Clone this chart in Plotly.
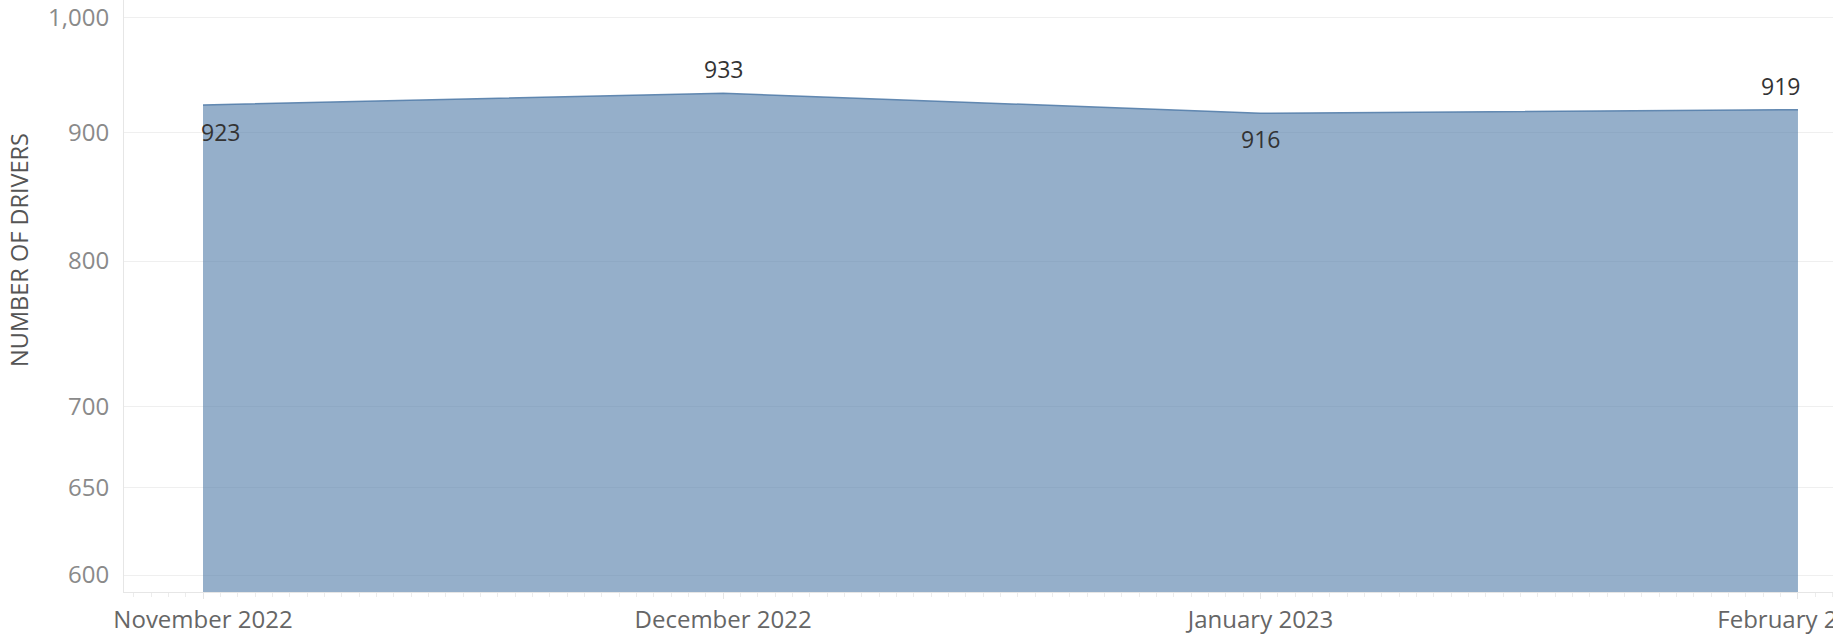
import numpy as np
import plotly.graph_objects as go

months = ["2022-11-01", "2022-12-01", "2023-01-01", "2023-02-01"]
drivers = [923, 933, 916, 919]
label_pos = ["below-right", "above", "below", "above-left"]

y_ticks = [600, 650, 700, 800, 900, 1000]
y_tick_text = ["600", "650", "700", "800", "900", "1,000"]
x_ticks = months
x_tick_text = ["November 2022", "December 2022", "January 2023", "February 2023"]

FONT = "Open Sans"

fig = go.Figure()
fig.add_trace(go.Scatter(
    x=months, y=drivers, mode="lines", fill="tozeroy",
    line=dict(color="rgba(78,121,167,0.85)", width=1.5),
    fillcolor="rgba(78,121,167,0.6)",
    hoverinfo="x+y", showlegend=False,
))

anchor = {
    "below-right": dict(xanchor="left", yanchor="top", xshift=-4, yshift=-9),
    "above": dict(xanchor="center", yanchor="bottom", xshift=0, yshift=6),
    "below": dict(xanchor="center", yanchor="top", xshift=0, yshift=-8),
    "above-left": dict(xanchor="right", yanchor="bottom", xshift=4, yshift=6),
}
for m, v, p in zip(months, drivers, label_pos):
    fig.add_annotation(x=m, y=np.log10(v), text=str(v), showarrow=False,
                       font=dict(family=FONT, size=23, color="#333333"), **anchor[p])

fig.add_annotation(xref="paper", yref="paper", x=-0.0614, y=0.578,
                   text="NUMBER OF DRIVERS", textangle=-90, showarrow=False,
                   xanchor="center", yanchor="middle",
                   font=dict(family=FONT, size=23.5, color="#555555"))

fig.update_layout(
    width=1833, height=634,
    margin=dict(l=124, r=0, t=0, b=42, autoexpand=False),
    paper_bgcolor="white", plot_bgcolor="white",
    font=dict(family=FONT),
)
fig.update_yaxes(
    type="log", range=[2.77139, 3.00696], automargin=False,
    tickvals=y_ticks, ticktext=y_tick_text,
    tickfont=dict(family=FONT, size=24, color="#8a8a8a"),
    gridcolor="#efefef", gridwidth=1,
    showline=True, linecolor="#e6e6e6", linewidth=1,
    zeroline=False, ticks="", ticklabelstandoff=9, ticklabeloverflow="allow",
)
fig.update_xaxes(
    type="date", range=["2022-10-27 10:37", "2023-02-03 00:30"], automargin=False,
    tickvals=x_ticks, ticktext=x_tick_text,
    tickfont=dict(family=FONT, size=24, color="#666666"),
    showgrid=False, showline=True, linecolor="#e6e6e6", linewidth=1,
    ticks="outside", ticklen=6, tickcolor="#e6e6e6",
    minor=dict(dtick=86400000, ticks="outside", ticklen=4, tickcolor="#ececec", showgrid=False),
    zeroline=False, ticklabeloverflow="allow", ticklabelstandoff=0,
)

fig.write_html("out.html", config={"displayModeBar": False},
               post_script="document.body.style.margin='0';document.body.style.overflow='hidden';")
